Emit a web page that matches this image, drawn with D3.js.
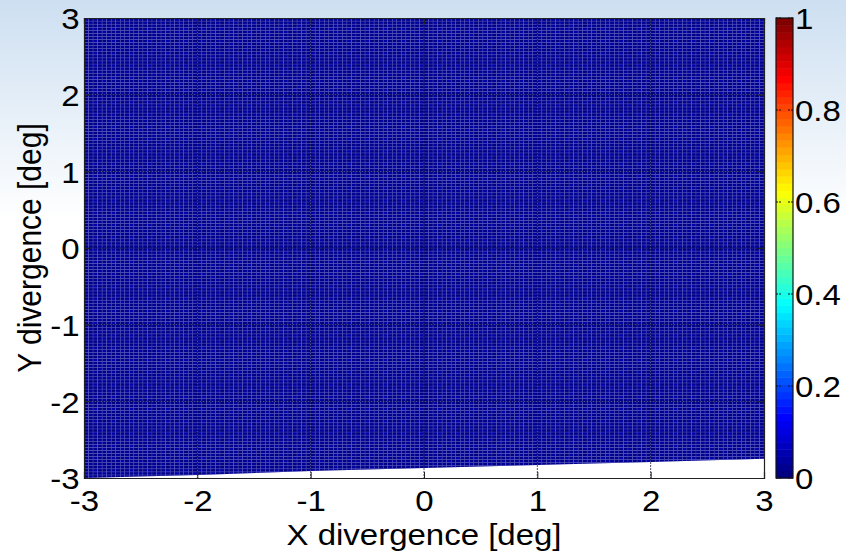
<!DOCTYPE html>
<html>
<head>
<meta charset="utf-8">
<script src="https://cdn.jsdelivr.net/npm/d3@7"></script>
<style>
  body { margin: 0; padding: 0; }
  svg { display: block; font-family: "Liberation Sans", Arial, sans-serif; }
</style>
</head>
<body>
<svg id="chart"></svg>
<script>
// Data
let xTicks = [-3, -2, -1, 0, 1, 2, 3];
let yTicks = [-3, -2, -1, 0, 1, 2, 3];
let cbTicks = [0, 0.2, 0.4, 0.6, 0.8, 1];
// mesh step of the surface (deg)
let meshStep = 0.04;
// small tile of intensity values that repeats across the mesh (all near 0)
let zTile = [
    [0.01, 0.03, 0.00, 0.02],
    [0.04, 0.00, 0.02, 0.01],
    [0.00, 0.02, 0.04, 0.01],
    [0.02, 0.01, 0.00, 0.03]
];
// lower edge of the data region
let lowerEdge = [[-3, -3], [-2, -2.96], [-1, -2.91], [0, -2.87], [1, -2.83], [2, -2.79], [3, -2.75]];

// SVG Size
let width = 846;
let height = 553;
let margin = { left: 84, right: 764, top: 18, bottom: 478 };
let stretch = "scale(1.1,1)";

let svg = d3.select("#chart")
    .attr("width", width)
    .attr("height", height);

// background gradient
let defs = svg.append("defs");
let grad = defs.append("linearGradient")
    .attr("id", "bg")
    .attr("x1", 0).attr("y1", 0).attr("x2", 0).attr("y2", 1);
grad.append("stop").attr("offset", "0%").attr("stop-color", "#cddff1");
grad.append("stop").attr("offset", "40%").attr("stop-color", "#ffffff");
grad.append("stop").attr("offset", "100%").attr("stop-color", "#ffffff");
svg.append("rect")
    .attr("width", width)
    .attr("height", height)
    .attr("fill", "url(#bg)");

// Scales
let x = d3.scaleLinear().domain([-3, 3]).range([margin.left, margin.right]);
let y = d3.scaleLinear().domain([-3, 3]).range([margin.bottom, margin.top]);
// MATLAB jet
function jet(v) {
    let t = Math.max(0, Math.min(1, v));
    let r = Math.max(0, Math.min(1, 1.5 - Math.abs(4 * t - 3)));
    let g = Math.max(0, Math.min(1, 1.5 - Math.abs(4 * t - 2)));
    let b = Math.max(0, Math.min(1, 1.5 - Math.abs(4 * t - 1)));
    return d3.rgb(r * 255, g * 255, b * 255).toString();
}

// axes background
svg.append("rect")
    .attr("x", margin.left).attr("y", margin.top)
    .attr("width", margin.right - margin.left)
    .attr("height", margin.bottom - margin.top)
    .attr("fill", "#ffffff");

// clip for the data region
let clipPts = [[-3, 3], [3, 3]].concat(lowerEdge.slice().reverse());
defs.append("clipPath").attr("id", "dataClip")
    .append("path")
    .attr("d", d3.line().x(d => x(d[0])).y(d => y(d[1]))(clipPts) + "Z");

// mesh cells
let xs = d3.range(-3, 3 - 1e-9, meshStep);
let ys = d3.range(-3, 3 - 1e-9, meshStep);
let cells = [];
xs.forEach((xv, i) => {
    ys.forEach((yv, j) => {
        cells.push({ x: xv, y: yv, v: zTile[j % 4][i % 4] });
    });
});

let mesh = svg.append("g").attr("clip-path", "url(#dataClip)");
mesh.selectAll("rect")
    .data(cells)
    .enter()
    .append("rect")
    .attr("x", d => x(d.x))
    .attr("y", d => y(d.y + meshStep))
    .attr("width", x(meshStep) - x(0))
    .attr("height", y(0) - y(meshStep))
    .attr("fill", d => jet(d.v))
    .attr("stroke", "#6c6cc8")
    .attr("stroke-opacity", 0.45)
    .attr("stroke-width", 0.6);

// grid lines
let grid = svg.append("g");
grid.selectAll(".gx")
    .data(xTicks.slice(1, -1))
    .enter().append("line")
    .attr("x1", d => x(d)).attr("x2", d => x(d))
    .attr("y1", margin.top).attr("y2", margin.bottom)
    .attr("stroke", "#000030").attr("stroke-opacity", 0.7)
    .attr("stroke-width", 1).attr("stroke-dasharray", "2,1");
grid.selectAll(".gy")
    .data(yTicks.slice(1, -1))
    .enter().append("line")
    .attr("y1", d => y(d)).attr("y2", d => y(d))
    .attr("x1", margin.left).attr("x2", margin.right)
    .attr("stroke", "#000030").attr("stroke-opacity", 0.7)
    .attr("stroke-width", 1).attr("stroke-dasharray", "2,1");

// Axes (ticks inside, box)
let tickLen = 6;
let fmt = d => String(d);
let axes = svg.append("g");
axes.append("g")
    .attr("class", "xb")
    .attr("transform", `translate(0,${margin.bottom})`)
    .call(d3.axisBottom(x).tickValues(xTicks).tickSize(-tickLen).tickPadding(12).tickFormat(fmt));
axes.append("g")
    .attr("transform", `translate(0,${margin.top})`)
    .call(d3.axisTop(x).tickValues(xTicks).tickSize(-tickLen).tickFormat(""));
axes.append("g")
    .attr("class", "yl")
    .attr("transform", `translate(${margin.left},0)`)
    .call(d3.axisLeft(y).tickValues(yTicks).tickSize(-tickLen).tickPadding(4).tickFormat(fmt));
axes.append("g")
    .attr("transform", `translate(${margin.right},0)`)
    .call(d3.axisRight(y).tickValues(yTicks).tickSize(-tickLen).tickFormat(""));
axes.selectAll(".domain").attr("stroke", "#222").attr("stroke-width", 1.2);
axes.selectAll(".tick line").attr("stroke", "#222");
axes.selectAll(".tick text")
    .attr("font-size", 30)
    .attr("font-family", "Liberation Sans, Arial, sans-serif")
    .attr("fill", "#000")
    .attr("transform", stretch);
axes.selectAll(".yl .tick text").attr("dy", "0.36em");

// Axis labels
svg.append("text")
    .attr("transform", `translate(${x(0)},545) ${stretch}`)
    .attr("text-anchor", "middle")
    .attr("font-size", 30)
    .text("X divergence [deg]");
svg.append("text")
    .attr("transform", `translate(41,${y(0)}) rotate(-90) scale(1,1.1)`)
    .attr("text-anchor", "middle")
    .attr("font-size", 30)
    .text("Y divergence [deg]");

// Colorbar
let cbX = 776, cbW = 17;
let cb = d3.scaleLinear().domain([0, 1]).range([margin.bottom, margin.top]);
let cbSteps = d3.range(64);
svg.append("g").selectAll("rect")
    .data(cbSteps)
    .enter().append("rect")
    .attr("x", cbX)
    .attr("y", d => cb((d + 1) / 64))
    .attr("width", cbW)
    .attr("height", cb(0) - cb(1 / 64) + 0.5)
    .attr("fill", d => jet(d / 63));
svg.append("rect")
    .attr("x", cbX).attr("y", margin.top)
    .attr("width", cbW).attr("height", margin.bottom - margin.top)
    .attr("fill", "none").attr("stroke", "#111").attr("stroke-width", 1.2);
let cbTickG = svg.append("g");
cbTickG.selectAll(".l")
    .data(cbTicks)
    .enter().append("line")
    .attr("x1", cbX).attr("x2", cbX + 5)
    .attr("y1", d => cb(d)).attr("y2", d => cb(d))
    .attr("stroke", "#111").attr("stroke-dasharray", "2,1");
cbTickG.selectAll(".r")
    .data(cbTicks)
    .enter().append("line")
    .attr("x1", cbX + cbW - 5).attr("x2", cbX + cbW)
    .attr("y1", d => cb(d)).attr("y2", d => cb(d))
    .attr("stroke", "#111").attr("stroke-dasharray", "2,1");
cbTickG.selectAll("text")
    .data(cbTicks)
    .enter().append("text")
    .attr("transform", d => `translate(${cbX + cbW + 2},${cb(d)}) ${stretch}`)
    .attr("dy", "0.36em")
    .attr("font-size", 30)
    .text(d => String(d));
</script>
</body>
</html>
